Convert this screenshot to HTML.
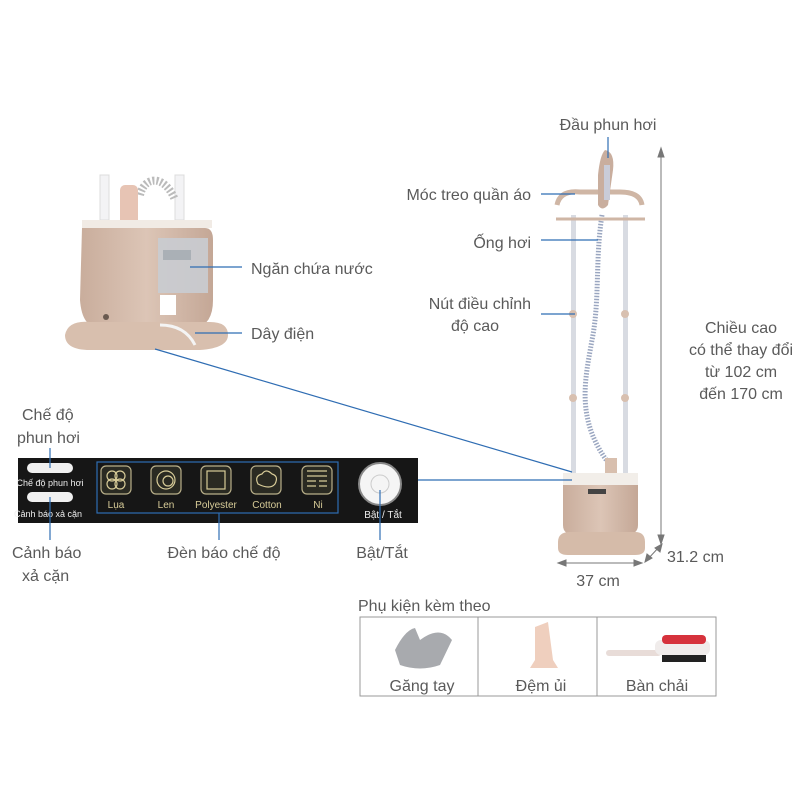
<!DOCTYPE html>
<html><head><meta charset="utf-8"><style>
html,body{margin:0;padding:0;background:#fff;}
svg{display:block;font-family:"Liberation Sans","DejaVu Sans",sans-serif;}
.t{fill:#5a5a5a;font-size:16px;}
.l{stroke:#2f6db3;stroke-width:1.2;fill:none;}
</style></head><body>
<svg width="800" height="800" viewBox="0 0 800 800" xmlns="http://www.w3.org/2000/svg">
<defs>
<linearGradient id="beige" x1="0" x2="1"><stop offset="0" stop-color="#c9ad9c"/><stop offset="0.5" stop-color="#dcc5b6"/><stop offset="1" stop-color="#c4a796"/></linearGradient>
</defs>
<!-- small steamer -->
<rect x="100" y="175" width="9" height="45" fill="#f3f3f5" stroke="#ddd"/>
<rect x="175" y="175" width="9" height="45" fill="#f3f3f5" stroke="#ddd"/>
<path d="M140 195 C145 175 165 175 175 200" stroke="#bbb" stroke-width="8" fill="none" stroke-dasharray="2 2"/>
<rect x="120" y="185" width="18" height="40" rx="5" fill="#e7c4b4"/>
<rect x="82" y="220" width="130" height="8" fill="#f1ebe5"/>
<path d="M82 228 H205 Q213 228 213 240 V300 Q213 325 195 328 H100 Q82 328 80 300 Z" fill="url(#beige)"/>
<rect x="158" y="238" width="50" height="55" fill="#c9ccd1" opacity="0.9"/>
<rect x="163" y="250" width="28" height="10" fill="#aab0b6"/>
<rect x="160" y="295" width="16" height="20" fill="#fff"/>
<circle cx="106" cy="317" r="3" fill="#6a5a50"/>
<path d="M65 335 Q68 320 90 322 H210 Q228 322 228 335 Q228 348 200 350 H90 Q65 350 65 335Z" fill="#d8bfae"/>
<path d="M160 325 Q185 325 195 345" stroke="#f4f4f4" stroke-width="3" fill="none"/>
<!-- big steamer -->
<rect x="571" y="215" width="5" height="260" fill="#d8dbe2"/>
<rect x="623" y="215" width="5" height="260" fill="#d8dbe2"/>
<circle cx="573" cy="314" r="4" fill="#d8c0b0"/><circle cx="625" cy="314" r="4" fill="#d8c0b0"/>
<circle cx="573" cy="398" r="4" fill="#d8c0b0"/><circle cx="625" cy="398" r="4" fill="#d8c0b0"/>
<path d="M602 215 C595 260 600 300 592 340 C585 380 575 420 610 465" stroke="#9aa6c0" stroke-width="5" fill="none" stroke-dasharray="1.5 1.5"/>
<path d="M557 205 Q560 190 580 192 H620 Q640 192 642 205" stroke="#cfb6a5" stroke-width="5" fill="none"/>
<line x1="556" y1="219" x2="645" y2="219" stroke="#cfb6a5" stroke-width="3"/>
<path d="M605 150 Q615 152 613 170 L608 205 Q602 212 598 205 L598 175 Q600 155 605 150Z" fill="#c9ae9e"/>
<rect x="604" y="165" width="6" height="35" fill="#c9ccd8"/>
<rect x="605" y="458" width="12" height="20" fill="#d8bfae"/>
<rect x="563" y="473" width="75" height="12" fill="#f2eee9"/>
<path d="M563 485 H638 V525 Q638 535 625 535 H575 Q563 535 563 525Z" fill="url(#beige)"/>
<rect x="588" y="489" width="18" height="5" fill="#444"/>
<path d="M558 542 Q558 532 570 532 H635 Q645 532 645 542 V548 Q645 555 635 555 H568 Q558 555 558 548Z" fill="#d5bba9"/>
<!-- dimension arrows -->
<g stroke="#777" stroke-width="1" fill="#777">
<line x1="661" y1="152" x2="661" y2="540"/>
<path d="M661 148 L658 157 L664 157Z"/><path d="M661 544 L658 535 L664 535Z"/>
<line x1="562" y1="563" x2="638" y2="563"/>
<path d="M558 563 L566 560 L566 566Z"/><path d="M642 563 L634 560 L634 566Z"/>
<line x1="647" y1="560" x2="660" y2="546"/>
<path d="M645 562 L647 554 L652 558Z"/><path d="M662 544 L655 548 L660 552Z"/>
</g>
<!-- labels -->
<text class="t" x="608" y="130" text-anchor="middle">Đầu phun hơi</text>
<line class="l" x1="608" y1="137" x2="608" y2="158"/>
<text class="t" x="531" y="200" text-anchor="end">Móc treo quần áo</text>
<line class="l" x1="541" y1="194" x2="575" y2="194"/>
<text class="t" x="531" y="248" text-anchor="end">Ống hơi</text>
<line class="l" x1="541" y1="240" x2="598" y2="240"/>
<text class="t" x="531" y="309" text-anchor="end">Nút điều chỉnh</text>
<text class="t" x="475" y="331" text-anchor="middle">độ cao</text>
<line class="l" x1="541" y1="314" x2="575" y2="314"/>
<text class="t" x="741" y="333" text-anchor="middle">Chiều cao</text>
<text class="t" x="741" y="355" text-anchor="middle">có thể thay đổi</text>
<text class="t" x="741" y="377" text-anchor="middle">từ  102 cm</text>
<text class="t" x="741" y="399" text-anchor="middle">đến 170 cm</text>
<text class="t" x="667" y="562">31.2 cm</text>
<text class="t" x="598" y="586" text-anchor="middle">37 cm</text>
<text class="t" x="251" y="274">Ngăn chứa nước</text>
<line class="l" x1="190" y1="267" x2="242" y2="267"/>
<text class="t" x="251" y="339">Dây điện</text>
<line class="l" x1="195" y1="333" x2="242" y2="333"/>
<line class="l" x1="155" y1="349" x2="572" y2="472"/>
<line class="l" x1="405" y1="480" x2="572" y2="480"/>
<!-- control panel -->
<rect x="18" y="458" width="400" height="65" fill="#161616"/>
<rect x="27" y="463" width="46" height="10" rx="5" fill="#f0f0f0"/>
<text x="50" y="486" fill="#eee" font-size="9" text-anchor="middle">Chế độ phun hơi</text>
<rect x="27" y="492" width="46" height="10" rx="5" fill="#f0f0f0"/>
<text x="48" y="517" fill="#eee" font-size="9" text-anchor="middle">Cảnh báo xả cặn</text>
<rect x="97" y="462" width="241" height="51" fill="none" stroke="#2f6db3" stroke-width="1.2"/>
<g fill="#2a2a22" stroke="#b9b08a" stroke-width="1.2">
<rect x="101" y="466" width="30" height="28" rx="5"/>
<rect x="151" y="466" width="30" height="28" rx="5"/>
<rect x="201" y="466" width="30" height="28" rx="5"/>
<rect x="251" y="466" width="30" height="28" rx="5"/>
<rect x="302" y="466" width="30" height="28" rx="5"/>
</g>
<g fill="none" stroke="#d8cc98" stroke-width="1.2">
<circle cx="112" cy="476" r="5"/><circle cx="120" cy="476" r="5"/><circle cx="112" cy="484" r="5"/><circle cx="120" cy="484" r="5"/>
<circle cx="166" cy="480" r="9"/><circle cx="168" cy="481" r="5"/>
<rect x="207" y="471" width="18" height="18"/>
<path d="M258 484 Q254 476 262 474 Q266 468 272 474 Q279 476 275 484 Q270 490 258 484Z"/>
<path d="M307 471 H327 M307 476 H327 M307 481 H316 M307 486 H316 M319 481 H327 M319 486 H327"/>
</g>
<g fill="#d8cc98" font-size="10" text-anchor="middle">
<text x="116" y="508">Lụa</text><text x="166" y="508">Len</text><text x="216" y="508">Polyester</text><text x="267" y="508">Cotton</text><text x="318" y="508">Ni</text>
</g>
<circle cx="380" cy="484" r="21" fill="#f5f5f5" stroke="#888" stroke-width="2"/>
<circle cx="380" cy="484" r="9" fill="none" stroke="#ccc"/>
<text x="383" y="518" fill="#eee" font-size="10" text-anchor="middle">Bật / Tắt</text>
<text class="t" x="22" y="420">Chế độ</text>
<text class="t" x="17" y="443">phun hơi</text>
<line class="l" x1="50" y1="448" x2="50" y2="468"/>
<text class="t" x="12" y="558">Cảnh báo</text>
<text class="t" x="22" y="581">xả cặn</text>
<line class="l" x1="50" y1="497" x2="50" y2="540"/>
<text class="t" x="224" y="558" text-anchor="middle">Đèn báo chế độ</text>
<line class="l" x1="219" y1="513" x2="219" y2="540"/>
<text class="t" x="382" y="558" text-anchor="middle">Bật/Tắt</text>
<line class="l" x1="380" y1="490" x2="380" y2="540"/>
<!-- accessories -->
<text class="t" x="358" y="611">Phụ kiện kèm theo</text>
<rect x="360" y="617" width="356" height="79" fill="none" stroke="#999"/>
<line x1="478" y1="617" x2="478" y2="696" stroke="#999"/>
<line x1="597" y1="617" x2="597" y2="696" stroke="#999"/>
<path d="M400 665 L395 650 Q405 630 415 628 L420 640 Q440 625 452 640 L440 665 Q420 672 400 665Z" fill="#a8aaae"/>
<path d="M535 627 L548 622 L553 660 L558 668 L530 668 L535 660Z" fill="#efcfbe"/>
<rect x="606" y="650" width="55" height="6" rx="3" fill="#e8dcd8"/>
<rect x="655" y="640" width="55" height="15" rx="6" fill="#f0eceb"/>
<rect x="662" y="635" width="44" height="9" rx="4" fill="#d6323c"/>
<rect x="662" y="655" width="44" height="7" fill="#222"/>
<text class="t" x="422" y="691" text-anchor="middle">Găng tay</text>
<text class="t" x="541" y="691" text-anchor="middle">Đệm ủi</text>
<text class="t" x="657" y="691" text-anchor="middle">Bàn chải</text>
</svg>
</body></html>
